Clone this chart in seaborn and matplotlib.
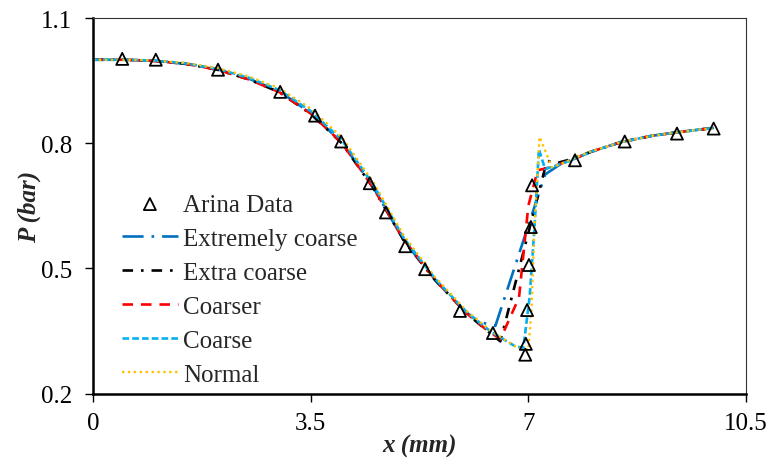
import matplotlib
matplotlib.use("Agg")
import matplotlib.pyplot as plt
import numpy as np
import pandas as pd
import seaborn as sns

# experimental data (Arina)
arina_x = [0.47, 1.01, 2.01, 3.01, 3.57, 3.99, 4.45, 4.71, 5.02, 5.34, 5.90, 6.43,
           6.95, 6.96, 6.98, 7.01, 7.04, 7.06, 7.75, 8.55, 9.39, 9.98]
arina_y = [1.002, 1.000, 0.976, 0.923, 0.866, 0.804, 0.704, 0.634, 0.553, 0.498, 0.398, 0.345,
           0.293, 0.319, 0.400, 0.508, 0.599, 0.699, 0.759, 0.804, 0.823, 0.835]

# simulations, one per mesh
ext_x = [0, 0.5, 1, 1.5, 2, 2.5, 3, 3.5, 4, 4.5, 5, 5.5, 6, 6.2, 6.47, 7.27, 7.5, 7.7, 8, 8.5, 9, 9.5, 10]
ext_y = [1.0, 1.0, 0.997, 0.99, 0.977, 0.955, 0.924, 0.872, 0.802, 0.696, 0.566, 0.472, 0.395, 0.372, 0.362,
         0.725, 0.748, 0.76, 0.779, 0.803, 0.818, 0.828, 0.837]

exc_x = [0, 0.5, 1, 1.5, 2, 2.5, 3, 3.5, 4, 4.5, 5, 5.5, 6, 6.3, 6.55, 7.3, 7.45, 7.7, 8, 8.5, 9, 9.5, 10]
exc_y = [1.0, 1.0, 0.997, 0.99, 0.976, 0.953, 0.922, 0.870, 0.800, 0.694, 0.566, 0.472, 0.393, 0.355, 0.325,
         0.758, 0.752, 0.762, 0.779, 0.803, 0.818, 0.828, 0.837]

crs_x = [0, 0.5, 1, 1.5, 2, 2.5, 3, 3.5, 4, 4.5, 5, 5.5, 6, 6.3, 6.55, 6.85, 7.0, 7.15, 7.35, 7.7, 8, 8.5, 9, 9.5, 10]
crs_y = [1.0, 1.0, 0.997, 0.99, 0.976, 0.953, 0.922, 0.871, 0.801, 0.695, 0.568, 0.473, 0.393, 0.356, 0.330,
         0.430, 0.650, 0.735, 0.742, 0.760, 0.779, 0.803, 0.818, 0.828, 0.837]

coa_x = [0, 0.5, 1, 1.5, 2, 2.5, 3, 3.5, 4, 4.5, 5, 5.5, 6, 6.4, 6.8, 6.92, 7.02, 7.1, 7.17, 7.27, 7.5, 7.7, 8, 8.5, 9, 9.5, 10]
coa_y = [1.0, 1.0, 0.998, 0.991, 0.978, 0.957, 0.927, 0.877, 0.808, 0.702, 0.572, 0.475, 0.396, 0.348, 0.312,
         0.310, 0.430, 0.600, 0.785, 0.738, 0.749, 0.760, 0.779, 0.803, 0.818, 0.828, 0.837]

nor_x = [0, 0.5, 1, 1.5, 2, 2.5, 3, 3.5, 4, 4.5, 5, 5.5, 6, 6.4, 6.8, 7.0, 7.05, 7.1, 7.18, 7.38, 7.6, 7.7, 8, 8.5, 9, 9.5, 10]
nor_y = [1.0, 1.0, 0.998, 0.992, 0.980, 0.960, 0.931, 0.883, 0.814, 0.708, 0.578, 0.479, 0.399, 0.350, 0.312,
         0.305, 0.400, 0.600, 0.815, 0.742, 0.755, 0.762, 0.780, 0.803, 0.818, 0.828, 0.837]

series = [
    ("Extremely coarse", ext_x, ext_y, "#0070C0", (8, 3, 1, 3), 1.9),
    ("Extra coarse", exc_x, exc_y, "#000000", (4, 3, 1, 3), 1.9),
    ("Coarser", crs_x, crs_y, "#FF0000", (4, 3), 1.9),
    ("Coarse", coa_x, coa_y, "#00B0F0", (2.5, 1.2), 1.9),
    ("Normal", nor_x, nor_y, "#FFC000", (1, 1.5), 1.7),
]

sns.set_style("white")
plt.rcParams["font.family"] = ["Liberation Serif", "DejaVu Serif"]

fig = plt.figure(figsize=(7.67, 4.6), dpi=100)
ax = fig.add_axes([93 / 767, 1 - 394.5 / 460, 653 / 767, 375.5 / 460])

sns.scatterplot(x=arina_x, y=arina_y, ax=ax, marker="^", s=75, facecolor="none",
                edgecolor="black", linewidth=1.3, label="Arina Data", zorder=3)

for name, xs, ys, col, dash, lw in series:
    df = pd.DataFrame({"x": xs, "y": ys})
    line = sns.lineplot(data=df, x="x", y="y", ax=ax, sort=False, color=col,
                        linewidth=lw, label=name, zorder=2)
    line.lines[-1].set_dashes(dash)

ax.set_xlim(0, 10.5)
ax.set_ylim(0.2, 1.1)
ax.set_xticks([0, 3.5, 7, 10.5])
ax.set_xticklabels(["0", "3.5", "7", "10.5"])
ax.set_yticks([0.2, 0.5, 0.8, 1.1])
ax.set_yticklabels(["0.2", "0.5", "0.8", "1.1"])
ax.tick_params(axis="both", direction="out", length=6, width=1, colors="black",
               labelsize=18, bottom=True, left=True)
ax.tick_params(axis="y", pad=9)
ax.tick_params(axis="x", pad=7)

for side in ["left", "bottom"]:
    ax.spines[side].set_linewidth(1.8)
    ax.spines[side].set_color("black")
for side in ["top", "right"]:
    ax.spines[side].set_linewidth(0.8)
    ax.spines[side].set_color("#333333")

ax.set_xlabel("x (mm)", fontsize=18, fontweight="bold", fontstyle="italic", labelpad=0)
ax.set_ylabel("P (bar)", fontsize=18, fontweight="bold", fontstyle="italic", labelpad=0)

leg = ax.legend(loc="lower left", bbox_to_anchor=(0.044, 0.021), frameon=False, fontsize=18,
                handlelength=2.25, handletextpad=0.2, labelspacing=0.46, borderaxespad=0,
                borderpad=0)

fig.savefig("out.png", dpi=100)
